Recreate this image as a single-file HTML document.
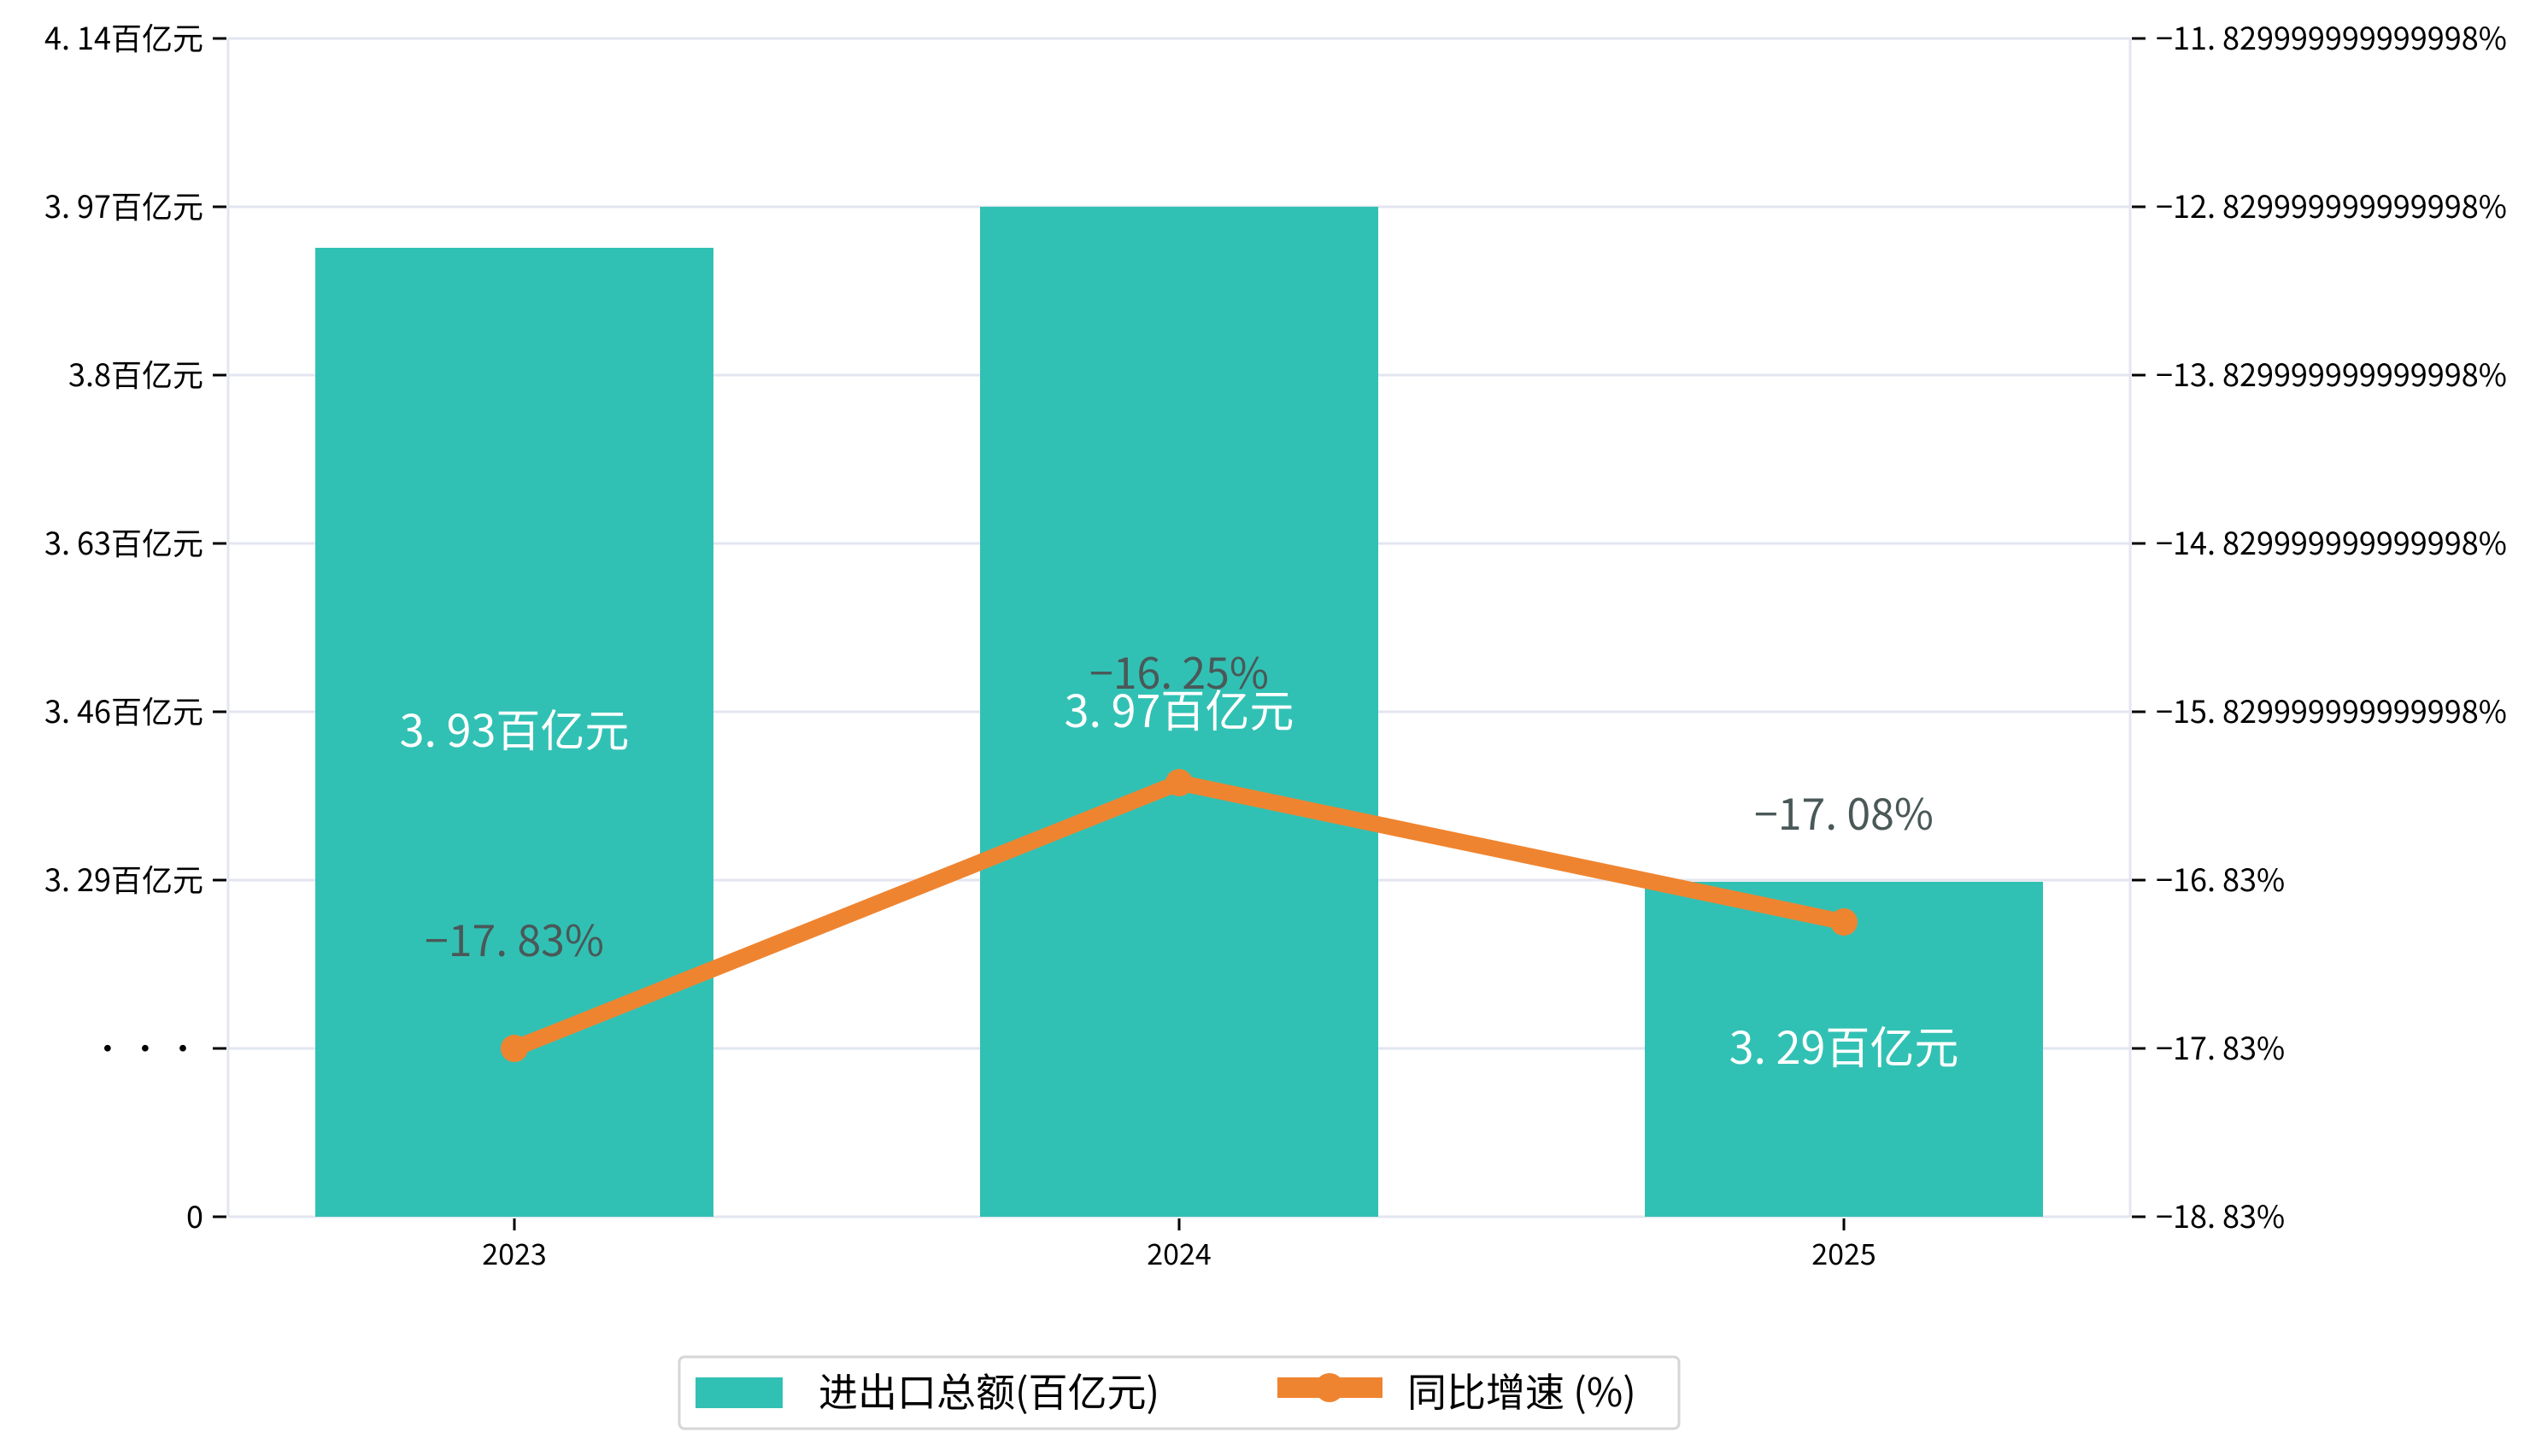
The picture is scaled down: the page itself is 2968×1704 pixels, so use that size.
<!DOCTYPE html>
<html><head><meta charset="utf-8"><style>
html,body{margin:0;padding:0;background:#fff;}
svg{display:block;}
text{font-family:"WenQuanYi Zen Hei","Noto Sans CJK SC",sans-serif;}
</style></head><body>
<svg width="2968" height="1704" viewBox="0 0 2968 1704" xmlns="http://www.w3.org/2000/svg">
<rect width="2968" height="1704" fill="#fff"/>
<g stroke="#e3e6f0" stroke-width="3">
<line x1="267" y1="45" x2="2493" y2="45"/>
<line x1="267" y1="242" x2="2493" y2="242"/>
<line x1="267" y1="439" x2="2493" y2="439"/>
<line x1="267" y1="636" x2="2493" y2="636"/>
<line x1="267" y1="833" x2="2493" y2="833"/>
<line x1="267" y1="1030" x2="2493" y2="1030"/>
<line x1="267" y1="1227" x2="2493" y2="1227"/>
<line x1="267" y1="1424" x2="2493" y2="1424"/>
<line x1="267" y1="45" x2="267" y2="1424"/>
<line x1="2493" y1="45" x2="2493" y2="1424"/>
</g>
<g fill="#31c1b4">
<rect x="369" y="290" width="466" height="1134"/>
<rect x="1147" y="242" width="466" height="1182"/>
<rect x="1925" y="1032" width="466" height="392"/>
</g>
<g stroke="#000" stroke-width="3">
<line x1="249" y1="45" x2="265" y2="45"/><line x1="249" y1="242" x2="265" y2="242"/>
<line x1="249" y1="439" x2="265" y2="439"/><line x1="249" y1="636" x2="265" y2="636"/>
<line x1="249" y1="833" x2="265" y2="833"/><line x1="249" y1="1030" x2="265" y2="1030"/>
<line x1="249" y1="1227" x2="265" y2="1227"/><line x1="249" y1="1424" x2="265" y2="1424"/>
<line x1="2495" y1="45" x2="2511" y2="45"/><line x1="2495" y1="242" x2="2511" y2="242"/>
<line x1="2495" y1="439" x2="2511" y2="439"/><line x1="2495" y1="636" x2="2511" y2="636"/>
<line x1="2495" y1="833" x2="2511" y2="833"/><line x1="2495" y1="1030" x2="2511" y2="1030"/>
<line x1="2495" y1="1227" x2="2511" y2="1227"/><line x1="2495" y1="1424" x2="2511" y2="1424"/>
<line x1="602" y1="1426" x2="602" y2="1440"/><line x1="1380" y1="1426" x2="1380" y2="1440"/><line x1="2158" y1="1426" x2="2158" y2="1440"/>
</g>
<g font-size="36" fill="#000" text-anchor="end">
<text x="238" y="58">4. 14百亿元</text>
<text x="238" y="255">3. 97百亿元</text>
<text x="238" y="452">3.8百亿元</text>
<text x="238" y="649">3. 63百亿元</text>
<text x="238" y="846">3. 46百亿元</text>
<text x="238" y="1043">3. 29百亿元</text>
<text x="232" y="1240">•  •  •</text>
<text x="238" y="1437">0</text>
</g>
<g font-size="36" fill="#000">
<text x="2523" y="58">−11. 829999999999998%</text>
<text x="2523" y="255">−12. 829999999999998%</text>
<text x="2523" y="452">−13. 829999999999998%</text>
<text x="2523" y="649">−14. 829999999999998%</text>
<text x="2523" y="846">−15. 829999999999998%</text>
<text x="2523" y="1043">−16. 83%</text>
<text x="2523" y="1240">−17. 83%</text>
<text x="2523" y="1437">−18. 83%</text>
</g>
<g font-size="34" fill="#000" text-anchor="middle">
<text x="602" y="1480">2023</text><text x="1380" y="1480">2024</text><text x="2158" y="1480">2025</text>
</g>
<g font-size="52" fill="#fff" text-anchor="middle">
<text x="602" y="874">3. 93百亿元</text>
<text x="1380" y="851">3. 97百亿元</text>
<text x="2158" y="1245">3. 29百亿元</text>
</g>
<polyline points="602,1227 1380,916 2158,1079" fill="none" stroke="#ef8430" stroke-width="19" stroke-linejoin="round"/>
<g fill="#ef8430"><circle cx="602" cy="1227" r="16"/><circle cx="1380" cy="916" r="16"/><circle cx="2158" cy="1079" r="16"/></g>
<g font-size="50" fill="#4a5858" text-anchor="middle">
<text x="602" y="1119">−17. 83%</text>
<text x="1380" y="806">−16. 25%</text>
<text x="2158" y="971">−17. 08%</text>
</g>
<rect x="795" y="1588" width="1170" height="84" rx="6" fill="#fff" stroke="#d6d6d6" stroke-width="3"/>
<rect x="814" y="1612" width="102" height="36" fill="#31c1b4"/>
<text x="958" y="1646" font-size="46" fill="#000">进出口总额(百亿元)</text>
<rect x="1495" y="1612" width="123" height="24" fill="#ef8430"/>
<circle cx="1556" cy="1624" r="17" fill="#ef8430"/>
<text x="1647" y="1646" font-size="46" fill="#000">同比增速 (%)</text>
</svg>
</body></html>
